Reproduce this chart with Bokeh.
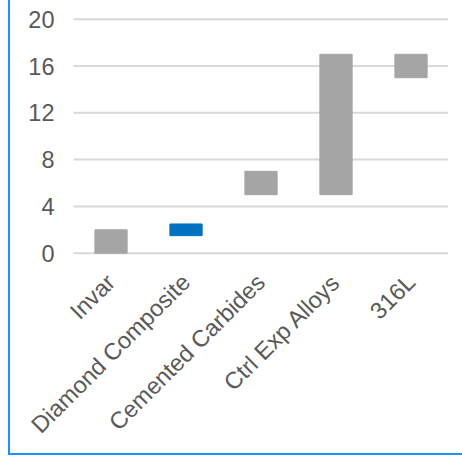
import math
from bokeh.plotting import figure
from bokeh.models import ColumnDataSource, Range1d
from bokeh.core.properties import value
from bokeh.embed import file_html
from bokeh.resources import INLINE

categories = ["Invar", "Diamond Composite", "Cemented Carbides", "Ctrl Exp Alloys", "316L"]
lows = [0, 1.5, 5, 5, 15]
highs = [2, 2.5, 7, 17, 17]
colors = ["#A5A5A5", "#0070C0", "#A5A5A5", "#A5A5A5", "#A5A5A5"]
y_ticks = [0, 4, 8, 12, 16, 20]
y_tick_labels = ["0", "4", "8", "12", "16", "20"]

# category slots: slot i spans [i, i+1], centre at i + 0.5
xpos = [i + 0.5 for i in range(len(categories))]
src = ColumnDataSource(dict(x=xpos, cat=categories, low=lows, high=highs, color=colors))
tick_src = ColumnDataSource(dict(y=y_ticks, label=y_tick_labels))

FONT = value("Liberation Sans")
FSIZE = value("23.5px")
TXT = "#595959"

# the frame covers the whole canvas so that tick and category labels are not clipped
p = figure(x_range=Range1d(-0.84, len(categories)),
           y_range=Range1d(-17.29, 21.6),
           width=454, height=455,
           output_backend="svg", toolbar_location=None,
           min_border_left=0, min_border_right=16,
           min_border_top=0, min_border_bottom=0)
p.margin = (0, 0, 0, 8)
p.styles = {"border-left": "2px solid #1E90FF", "border-bottom": "2px solid #1E90FF"}
p.outline_line_color = None
p.axis.visible = False
p.grid.visible = False

# horizontal grid lines across the category area
p.segment(x0=0, x1=len(categories), y0="y", y1="y", source=tick_src,
          line_color="#D9D9D9", line_width=2)

# y tick labels
p.text(x=0, y="y", text="label", source=tick_src,
       x_offset=-19, text_align="right", text_baseline="middle",
       text_font=FONT, text_font_size=FSIZE, text_color=TXT)

# floating bars
p.vbar(x="x", top="high", bottom="low", width=0.43, color="color", source=src)

# rotated category labels
p.text(x="x", y=0, text="cat", source=src,
       angle=math.pi / 4, text_align="right", text_baseline="middle",
       x_offset=0, y_offset=25,
       text_font=FONT, text_font_size=FSIZE, text_color=TXT)

open("out.html", "w").write(file_html(p, INLINE))
